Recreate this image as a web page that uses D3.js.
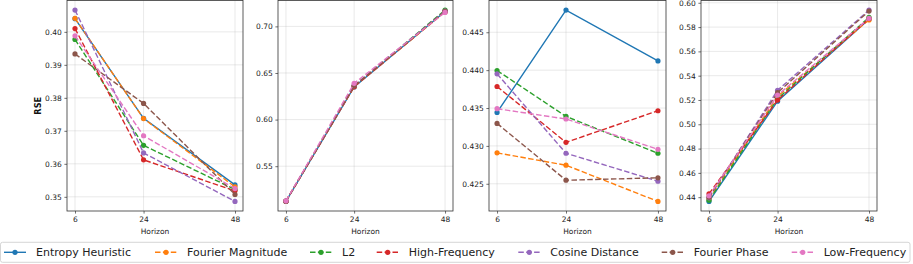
<!DOCTYPE html>
<html><head><meta charset="utf-8">
<script src="https://cdn.jsdelivr.net/npm/d3@7"></script>
<style>body{margin:0;background:#fff}svg{display:block;font-family:"DejaVu Sans",sans-serif}</style>
</head><body><svg id="c" width="913" height="264"></svg>
<script>
const horizons = [6, 24, 48];
const methods = ["Entropy Heuristic","Fourier Magnitude","L2","High-Frequency","Cosine Distance","Fourier Phase","Low-Frequency"];
const colors = ["#1f77b4","#ff7f0e","#2ca02c","#d62728","#9467bd","#8c564b","#e377c2"];
// values per panel, per method, at horizons 6,24,48
const panel1 = [[0.4040,0.3738,0.3536],[0.4041,0.3737,0.3530],[0.3977,0.3656,0.3522],[0.4010,0.3612,0.3518],[0.4066,0.3633,0.3486],[0.3933,0.3783,0.3507],[0.3988,0.3685,0.3525]];
const panel2 = [[0.5122,0.6350,0.7160],[0.5124,0.6355,0.7155],[0.5126,0.6360,0.7175],[0.5125,0.6352,0.7162],[0.5126,0.6365,0.7165],[0.5125,0.6362,0.7160],[0.5128,0.6389,0.7150]];
const panel3 = [[0.43442,0.44793,0.44122],[0.42908,0.42745,0.42267],[0.43995,0.43389,0.42903],[0.43784,0.43047,0.43464],[0.43951,0.42903,0.42534],[0.43297,0.42547,0.42579],[0.43491,0.43355,0.42955]];
const panel4 = [[0.4365,0.5190,0.5865],[0.4385,0.5230,0.5859],[0.4375,0.5210,0.5880],[0.4428,0.5199,0.5870],[0.4395,0.5280,0.5940],[0.4400,0.5260,0.5932],[0.4411,0.5240,0.5872]];
const yTicks = [[0.35,0.36,0.37,0.38,0.39,0.40],[0.55,0.60,0.65,0.70],[0.425,0.430,0.435,0.440,0.445],[0.44,0.46,0.48,0.50,0.52,0.54,0.56,0.58,0.60]];
const yFormats = [".2f",".2f",".3f",".2f"];
const panels = [panel1, panel2, panel3, panel4];
const panelX = [[67,243],[278,453],[489,666],[701,877]];
const yTop = 0.5, yBottom = 211;

const svg = d3.select("#c");
panels.forEach((data, pi) => {
  const [x0, x1] = panelX[pi];
  const x = d3.scaleLinear().domain([6 - 2.1, 48 + 2.1]).range([x0, x1]);
  const all = data.flat();
  const mn = d3.min(all), mx = d3.max(all), pad = (mx - mn) * 0.05;
  const y = d3.scaleLinear().domain([mn - pad, mx + pad]).range([yBottom, yTop]);
  const g = svg.append("g");
  g.selectAll(".vg").data(horizons).join("line")
    .attr("x1", d => x(d)).attr("x2", d => x(d)).attr("y1", yTop).attr("y2", yBottom)
    .attr("stroke", "#b0b0b0").attr("stroke-opacity", 0.35).attr("stroke-width", 0.8);
  g.selectAll(".hg").data(yTicks[pi]).join("line")
    .attr("x1", x0).attr("x2", x1).attr("y1", d => y(d)).attr("y2", d => y(d))
    .attr("stroke", "#b0b0b0").attr("stroke-opacity", 0.35).attr("stroke-width", 0.8);
  const xa = g.append("g").attr("transform", `translate(0,${yBottom})`)
    .call(d3.axisBottom(x).tickValues(horizons).tickSize(2.6).tickPadding(2.6).tickSizeOuter(0));
  const ya = g.append("g").attr("transform", `translate(${x0},0)`)
    .call(d3.axisLeft(y).tickValues(yTicks[pi]).tickFormat(d3.format(yFormats[pi])).tickSize(2.6).tickPadding(2.6).tickSizeOuter(0));
  [xa, ya].forEach(a => {
    a.select(".domain").remove();
    a.selectAll("text").attr("font-size", 7.5).attr("fill", "#222").attr("font-family", "DejaVu Sans");
    a.selectAll("line").attr("stroke", "#333").attr("stroke-width", 0.7);
  });
  const line = d3.line().x((d, i) => x(horizons[i])).y(d => y(d));
  data.forEach((vals, mi) => {
    g.append("path").attr("d", line(vals)).attr("fill", "none")
      .attr("stroke", colors[mi]).attr("stroke-width", 1.4)
      .attr("stroke-dasharray", mi === 0 ? null : "5.5,2.4");
    g.selectAll(null).data(vals).join("circle")
      .attr("cx", (d, i) => x(horizons[i])).attr("cy", d => y(d)).attr("r", 2.6)
      .attr("fill", colors[mi]);
  });
  g.append("rect").attr("x", x0).attr("y", yTop).attr("width", x1 - x0).attr("height", yBottom - yTop)
    .attr("fill", "none").attr("stroke", "#333").attr("stroke-width", 0.8);
  g.append("text").attr("x", (x0 + x1) / 2).attr("y", 234).attr("text-anchor", "middle")
    .attr("font-size", 7.5).attr("fill", "#222").text("Horizon");
  if (pi === 0) {
    g.append("text").attr("transform", `translate(41,${(yTop + yBottom) / 2}) rotate(-90)`)
      .attr("text-anchor", "middle").attr("font-size", 8.2).attr("font-weight", "bold").attr("fill", "#111").text("RSE");
  }
});

const leg = svg.append("g");
leg.append("rect").attr("x", 0.5).attr("y", 242.3).attr("width", 909.5).attr("height", 20)
  .attr("rx", 2).attr("fill", "#fff").attr("stroke", "#ccc").attr("stroke-width", 0.8);
const handleX = [4, 155, 310, 376.7, 518.3, 661.7, 791.7];
methods.forEach((m, i) => {
  const hx = handleX[i], cy = 252.3;
  leg.append("line").attr("x1", hx).attr("x2", hx + 22).attr("y1", cy).attr("y2", cy)
    .attr("stroke", colors[i]).attr("stroke-width", 1.4)
    .attr("stroke-dasharray", i === 0 ? null : "5.5,2.4");
  leg.append("circle").attr("cx", hx + 11).attr("cy", cy).attr("r", 2.6).attr("fill", colors[i]);
  leg.append("text").attr("x", hx + 32).attr("y", cy).attr("dy", "0.35em")
    .attr("font-size", 11).attr("fill", "#222").text(m);
});
</script></body></html>
